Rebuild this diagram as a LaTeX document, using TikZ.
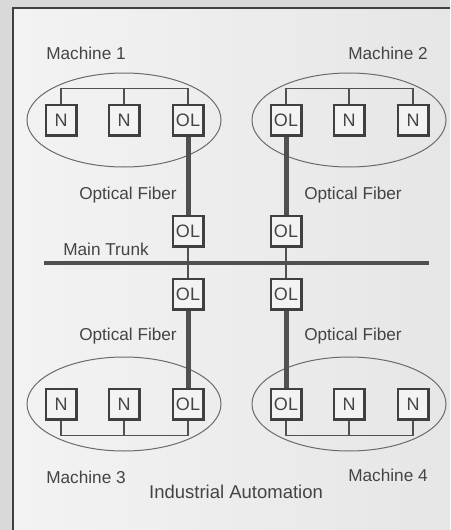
\documentclass[tikz,border=0pt]{standalone}
\usepackage{fontspec}
\setmainfont{Liberation Sans}
\usepackage{tikz}
\usetikzlibrary{calc}
\definecolor{linegray}{HTML}{505050}
\definecolor{boxgray}{HTML}{404040}
\definecolor{ringgray}{HTML}{6A6A6A}
\definecolor{txtgray}{HTML}{444444}
\definecolor{bgout}{HTML}{D9D9D9}
\definecolor{bgin}{HTML}{F3F3F3}
\definecolor{bgright}{HTML}{E6E6E6}
\newcommand{\lbl}{\fontsize{17.2}{20}\selectfont}
\newcommand{\boxlbl}{\fontsize{18}{21}\selectfont}
\newcommand{\ttl}{\fontsize{18.5}{22}\selectfont}

\begin{document}
\begin{tikzpicture}[x=1pt,y=-1pt,
    box/.style={draw=boxgray,line width=2.5pt,fill=bgin,minimum width=30.5pt,
                minimum height=30.5pt,inner sep=0pt,text=txtgray,font=\boxlbl},
    bus/.style={draw=linegray,line width=1.7pt},
    fiber/.style={draw=linegray,line width=5pt},
    trunk/.style={draw=linegray,line width=4.5pt},
    machine/.style={draw=ringgray,line width=1pt},
    caption/.style={text=txtgray,font=\lbl,inner sep=0pt},
  ]
  \useasboundingbox (0,0) rectangle (450,530);

  % ---------------------------------------------------------------- frame
  \fill[bgout] (0,0) rectangle (450,530);
  \shade[left color=bgin,right color=bgright] (13,8) rectangle (450,530);
  \draw[boxgray,line width=2.2pt] (13,530) -- (13,8) -- (450,8);

  % ---------------------------------------------------------------- machines
  % #: number / centre x / centre y / box texts / bus side (anchor, offset)
  \foreach \m/\cx/\cy/\tA/\tB/\tC/\an/\d in {1/124/120/N/N/OL/north/-15,
                                            2/349/120/OL/N/N/north/-15,
                                            3/124/404/N/N/OL/south/15,
                                            4/349/404/OL/N/N/south/15} {
    \draw[machine] (\cx,\cy) ellipse [x radius=97,y radius=47];
    \node[box] (m\m-a) at (\cx-63,\cy) {\tA};
    \node[box] (m\m-b) at (\cx,\cy)    {\tB};
    \node[box] (m\m-c) at (\cx+64,\cy) {\tC};
    \draw[bus] (m\m-a.\an) -- ++(0,\d) -| (m\m-c.\an);
    \draw[bus] (m\m-b.\an) -- ++(0,\d);
  }

  % ---------------------------------------------------------------- fiber links
  \node[box] (f1-u) at (188,231) {OL};
  \node[box] (f2-u) at (286,231) {OL};
  \node[box] (f3-d) at (188,294) {OL};
  \node[box] (f4-d) at (286,294) {OL};
  \draw[fiber] (m1-c) -- (f1-u);
  \draw[fiber] (m2-a) -- (f2-u);
  \draw[fiber] (f3-d) -- (m3-c);
  \draw[fiber] (f4-d) -- (m4-a);
  \draw[bus] (f1-u) -- (f3-d);
  \draw[bus] (f2-u) -- (f4-d);

  % main trunk
  \coordinate (t-w) at (44,263);
  \coordinate (t-e) at (429,263);
  \draw[trunk] (t-w) -- (t-e);

  % ---------------------------------------------------------------- labels
  \node[caption] (l-m1) at (86,53)   {Machine 1};
  \node[caption] (l-m2) at (388,53)  {Machine 2};
  \node[caption] (l-m3) at (86,477)  {Machine 3};
  \node[caption] (l-m4) at (388,475) {Machine 4};
  \node[caption] (l-f1) at (128,195) {Optical Fiber};
  \node[caption] (l-f2) at (353,195) {Optical Fiber};
  \node[caption] (l-f3) at (128,336) {Optical Fiber};
  \node[caption] (l-f4) at (353,336) {Optical Fiber};
  \node[caption] (l-tr) at (106,249) {Main Trunk};
  \node[caption,font=\ttl] (l-ia) at (236,492) {Industrial Automation};
\end{tikzpicture}
\end{document}
